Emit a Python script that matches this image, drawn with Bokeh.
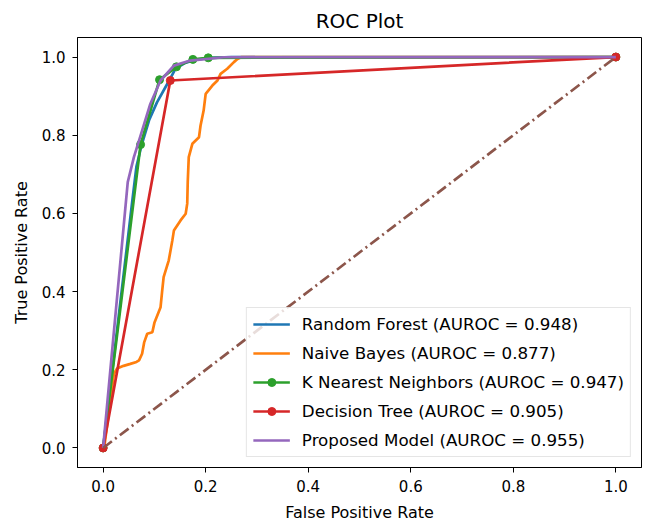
from bokeh.plotting import figure
from bokeh.models import Range1d, Legend, LegendItem, FixedTicker
from bokeh.embed import file_html
from bokeh.resources import INLINE

# ---- data ----
tick_vals = [0.0, 0.2, 0.4, 0.6, 0.8, 1.0]
tick_labels = ["0.0", "0.2", "0.4", "0.6", "0.8", "1.0"]

rf_fpr = [0.0, 0.057, 0.065, 0.075, 0.09, 0.105, 0.125, 0.141, 0.16, 0.18, 0.21, 0.25, 1.0]
rf_tpr = [0.0, 0.633, 0.72, 0.775, 0.84, 0.884, 0.931, 0.970, 0.985, 0.993, 0.998, 1.0, 1.0]

nb_fpr = [0.0, 0.003, 0.012, 0.021, 0.027, 0.040, 0.053, 0.065, 0.070, 0.076, 0.080, 0.086,
          0.096, 0.100, 0.112, 0.115, 0.118, 0.128, 0.135, 0.138, 0.151, 0.161, 0.164, 0.165,
          0.167, 0.174, 0.187, 0.190, 0.196, 0.200, 0.213, 0.223, 0.229, 0.242, 0.255, 0.262,
          0.270, 1.0]
nb_tpr = [0.0, 0.01, 0.10, 0.19, 0.203, 0.21, 0.215, 0.22, 0.224, 0.241, 0.27, 0.292,
          0.296, 0.32, 0.360, 0.40, 0.437, 0.480, 0.531, 0.556, 0.582, 0.599, 0.625, 0.68,
          0.744, 0.778, 0.795, 0.825, 0.863, 0.906, 0.927, 0.940, 0.957, 0.970, 0.987, 0.995,
          1.0, 1.0]

knn_fpr = [0.0, 0.073, 0.110, 0.143, 0.175, 0.205, 1.0]
knn_tpr = [0.0, 0.776, 0.942, 0.975, 0.994, 0.998, 1.0]

dt_fpr = [0.0, 0.131, 1.0]
dt_tpr = [0.0, 0.940, 1.0]

pm_fpr = [0.0, 0.048, 0.060, 0.076, 0.092, 0.112, 0.138, 0.170, 0.235, 1.0]
pm_tpr = [0.0, 0.680, 0.744, 0.812, 0.880, 0.940, 0.978, 0.991, 0.9995, 1.0]

diag = [0.0, 1.0]

labels = ["Random Forest (AUROC = 0.948)",
          "Naive Bayes (AUROC = 0.877)",
          "K Nearest Neighbors (AUROC = 0.947)",
          "Decision Tree (AUROC = 0.905)",
          "Proposed Model (AUROC = 0.955)"]

FONT = "DejaVu Sans"
LW = 2.7

p = figure(width=648, height=529, output_backend="svg", toolbar_location=None,
           x_range=Range1d(-0.05, 1.05), y_range=Range1d(-0.05, 1.05),
           min_border_left=77, min_border_right=7, min_border_top=37, min_border_bottom=62,
           title="ROC Plot")
p.background_fill_color = "white"
p.border_fill_color = "white"
p.outline_line_color = "black"
p.outline_line_width = 1
p.outline_line_alpha = 1
p.xgrid.visible = False
p.ygrid.visible = False

p.title.text_font = FONT
p.title.text_font_size = "20px"
p.title.text_font_style = "normal"
p.title.text_color = "black"
p.title.align = "center"
p.title.standoff = 10

for ax in (p.xaxis[0], p.yaxis[0]):
    ax.ticker = FixedTicker(ticks=tick_vals)
    ax.major_label_overrides = {v: l for v, l in zip(tick_vals, tick_labels)}
    ax.major_label_text_font = FONT
    ax.major_label_text_font_size = "15px"
    ax.major_label_text_color = "black"
    ax.axis_label_text_font = FONT
    ax.axis_label_text_font_size = "16px"
    ax.axis_label_text_font_style = "normal"
    ax.axis_label_text_color = "black"
    ax.minor_tick_line_color = None
    ax.major_tick_in = 0
    ax.major_tick_out = 5
    ax.axis_line_color = "black"
    ax.major_tick_line_color = "black"

p.xaxis.axis_label = "False Positive Rate"
p.yaxis.axis_label = "True Positive Rate"
p.xaxis.major_label_standoff = 7
p.yaxis.major_label_standoff = 7
p.xaxis.axis_label_standoff = 8
p.yaxis.axis_label_standoff = 8

r_rf = p.line(rf_fpr, rf_tpr, line_color="#1f77b4", line_width=LW)
r_nb = p.line(nb_fpr, nb_tpr, line_color="#ff7f0e", line_width=LW)
r_knn = p.line(knn_fpr, knn_tpr, line_color="#2ca02c", line_width=LW)
r_knn_m = p.scatter(knn_fpr, knn_tpr, size=8, color="#2ca02c")
r_dt = p.line(dt_fpr, dt_tpr, line_color="#d62728", line_width=LW)
r_dt_m = p.scatter(dt_fpr, dt_tpr, size=8, color="#d62728")
r_pm = p.line(pm_fpr, pm_tpr, line_color="#9467bd", line_width=LW)
p.line(diag, diag, line_color="#8c564b", line_width=LW, line_dash="11 4 2 4")

legend = Legend(items=[
    LegendItem(label=labels[0], renderers=[r_rf]),
    LegendItem(label=labels[1], renderers=[r_nb]),
    LegendItem(label=labels[2], renderers=[r_knn, r_knn_m]),
    LegendItem(label=labels[3], renderers=[r_dt, r_dt_m]),
    LegendItem(label=labels[4], renderers=[r_pm]),
], location="bottom_right")
legend.label_text_font = FONT
legend.label_text_font_size = "16.7px"
legend.label_text_color = "black"
legend.glyph_width = 37
legend.glyph_height = 20
legend.label_height = 20
legend.label_standoff = 12
legend.spacing = 9
legend.padding = 6
legend.margin = 10
legend.border_line_color = "#cccccc"
legend.border_line_width = 1
legend.background_fill_alpha = 0.8
p.add_layout(legend)

open("out.html", "w").write(file_html(p, INLINE))
